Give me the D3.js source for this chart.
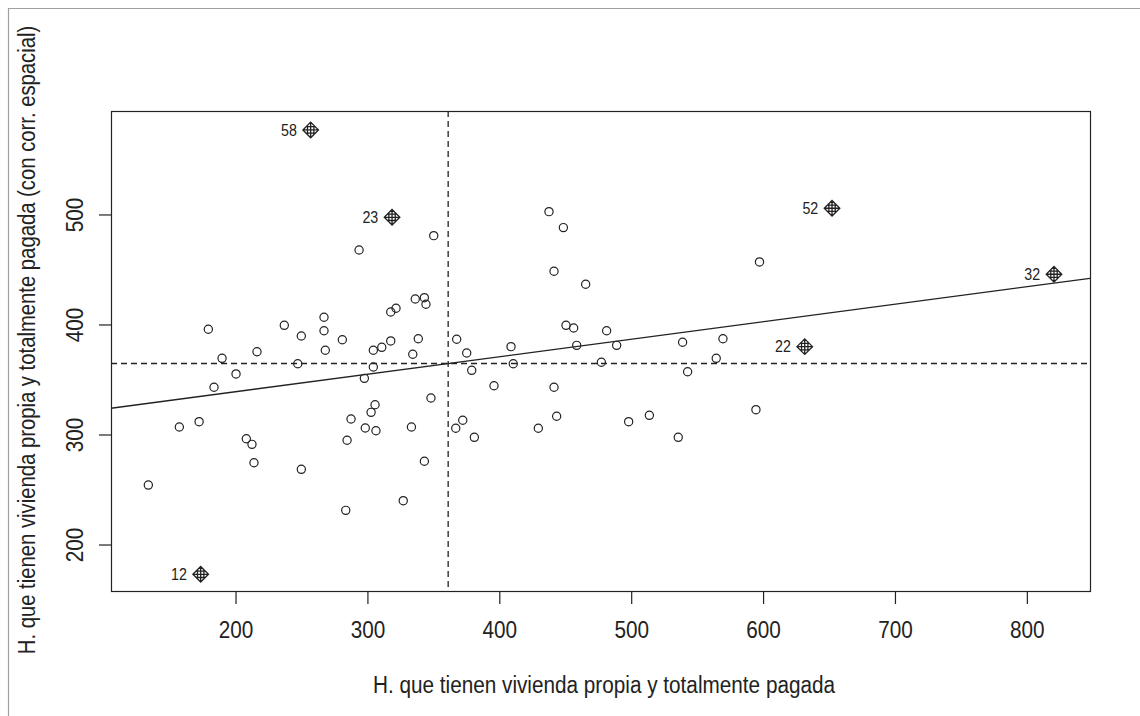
<!DOCTYPE html>
<html>
<head>
<meta charset="utf-8">
<script src="https://cdn.jsdelivr.net/npm/d3@7"></script>
<style>
  html, body { margin: 0; padding: 0; background: #fff; }
  svg { display: block; }
  text { font-family: "Liberation Sans", Arial, sans-serif; fill: #222; }
</style>
</head>
<body>
<svg id="chart" width="1140" height="716"></svg>
<script>
// Households with own, fully paid dwelling (x) vs. its spatial lag (wx)
const obsX = [
  349.9, 293.3, 335.9, 342.8, 344.0, 317.3, 321.3, 266.7, 179.0, 236.6,
  266.7, 249.5, 280.6, 317.3, 338.2, 367.3, 189.4, 215.9, 267.7, 304.1,
  310.5, 334.0, 246.8, 304.1, 200.0, 297.3, 183.3, 347.8, 305.4, 302.4,
  172.0, 157.0, 287.2, 298.0, 306.1, 333.0, 366.6, 207.8, 212.1, 284.2,
  213.6, 249.5, 342.8, 133.5, 326.8, 283.2, 437.3, 448.2, 596.9, 441.1,
  465.1, 450.2, 456.0, 481.0, 408.5, 458.3, 488.6, 538.6, 569.2, 374.9,
  378.7, 410.2, 477.0, 542.4, 564.1, 395.6, 441.1, 371.9, 380.7, 429.2,
  443.1, 497.7, 513.4, 535.3, 594.2
];
const lagY = [
  481.2, 468.2, 423.6, 424.8, 418.8, 411.8, 415.2, 407.0, 396.1, 399.7,
  394.8, 390.0, 386.6, 385.5, 387.5, 387.0, 369.7, 375.7, 377.0, 377.0,
  379.7, 373.4, 364.8, 361.8, 355.5, 351.5, 343.4, 333.6, 327.5, 320.6,
  312.1, 307.3, 314.5, 306.4, 303.9, 307.3, 306.1, 296.6, 291.5, 295.2,
  274.8, 268.8, 276.1, 254.5, 240.3, 231.5, 503.0, 488.5, 457.3, 448.8,
  437.0, 399.7, 397.3, 394.8, 380.3, 381.5, 381.5, 384.3, 387.5, 374.5,
  358.8, 364.8, 366.1, 357.5, 369.7, 344.8, 343.4, 313.4, 297.9, 306.1,
  317.0, 312.1, 317.9, 297.9, 323.0
];

// Influential observations
const inflIds = ["58", "23", "12", "52", "32", "22"];
const inflX   = [256.6, 318.3, 173.2, 651.9, 820.2, 631.2];
const inflY   = [577.3, 497.9, 173.4, 506.1, 446.1, 380.3];

const xTicks = [200, 300, 400, 500, 600, 700, 800];
const yTicks = [200, 300, 400, 500];

const xTitle = "H. que tienen vivienda propia y totalmente pagada";
const yTitle = "H. que tienen vivienda propia y totalmente pagada (con corr. espacial)";

const xDomain = [105.2, 847.5];
const yDomain = [158.2, 594.5];

// ---- layout ----
const W = 1140, H = 716;
const plot = { left: 111, right: 1090, top: 111, bottom: 591 };
const ink = "#222";
const fontSize = 23.3, squeeze = 0.89;

const svg = d3.select("#chart");

const x = d3.scaleLinear().domain(xDomain).range([plot.left, plot.right]);
const y = d3.scaleLinear().domain(yDomain).range([plot.bottom, plot.top]);

// all observations together for the summary statistics
const allX = obsX.concat(inflX);
const allY = lagY.concat(inflY);
const mx = d3.mean(allX), my = d3.mean(allY);
let sxy = 0, sxx = 0;
allX.forEach((v, i) => { sxy += (v - mx) * (allY[i] - my); sxx += (v - mx) * (v - mx); });
const slope = sxy / sxx, intercept = my - slope * mx;

// outer frame (top and left edges)
svg.append("path")
  .attr("d", `M8.5,${H} V8.5 H${W}`)
  .attr("fill", "none").attr("stroke", "#a0a0a0").attr("stroke-width", 1.2);

// clip for the lines inside the plot region
svg.append("clipPath").attr("id", "plotclip")
  .append("rect")
  .attr("x", plot.left).attr("y", plot.top)
  .attr("width", plot.right - plot.left).attr("height", plot.bottom - plot.top);

const inner = svg.append("g").attr("clip-path", "url(#plotclip)");

// regression line of wx on x
inner.append("line")
  .attr("x1", x(xDomain[0])).attr("y1", y(intercept + slope * xDomain[0]))
  .attr("x2", x(xDomain[1])).attr("y2", y(intercept + slope * xDomain[1]))
  .attr("stroke", ink).attr("stroke-width", 1.3);

// mean lines
inner.append("line")
  .attr("x1", x(mx)).attr("x2", x(mx))
  .attr("y1", plot.top).attr("y2", plot.bottom)
  .attr("stroke", ink).attr("stroke-width", 1.3).attr("stroke-dasharray", "6,4");
inner.append("line")
  .attr("x1", plot.left).attr("x2", plot.right)
  .attr("y1", y(my)).attr("y2", y(my))
  .attr("stroke", ink).attr("stroke-width", 1.3).attr("stroke-dasharray", "6,4");

// ordinary observations
inner.append("g").selectAll("circle")
  .data(obsX.map((v, i) => [v, lagY[i]]))
  .join("circle")
  .attr("cx", d => x(d[0])).attr("cy", d => y(d[1]))
  .attr("r", 4.1)
  .attr("fill", "none").attr("stroke", ink).attr("stroke-width", 1.2);

// influential observations: diamond with cross
const dr = 7.8, hs = 3.2;
const infl = svg.append("g").selectAll("g")
  .data(inflIds.map((id, i) => ({ id, vx: inflX[i], vy: inflY[i] })))
  .join("g")
  .attr("transform", d => `translate(${x(d.vx)},${y(d.vy)})`);

infl.append("path")
  .attr("d", () => {
    let p = `M0,${-dr} L${dr},0 L0,${dr} L${-dr},0 Z M${-dr},0 H${dr} M0,${-dr} V${dr}`;
    const e = dr - hs;
    [-hs, hs].forEach(o => {
      p += ` M${-e},${o} H${e} M${o},${-e} V${e}`;
    });
    return p;
  })
  .attr("fill", "none").attr("stroke", ink).attr("stroke-width", 1.3);

infl.append("text")
  .attr("transform", `translate(${-dr - 6},5.6) scale(${squeeze},1)`)
  .attr("text-anchor", "end")
  .attr("font-size", 16)
  .text(d => d.id);

// plot box
svg.append("rect")
  .attr("x", plot.left + 0.5).attr("y", plot.top + 0.5)
  .attr("width", plot.right - plot.left).attr("height", plot.bottom - plot.top)
  .attr("fill", "none").attr("stroke", ink).attr("stroke-width", 1.2);

// x axis
const xAxis = svg.append("g");
xAxis.selectAll("line").data(xTicks).join("line")
  .attr("x1", d => x(d)).attr("x2", d => x(d))
  .attr("y1", plot.bottom).attr("y2", plot.bottom + 13)
  .attr("stroke", ink).attr("stroke-width", 1.2);
xAxis.selectAll("text").data(xTicks).join("text")
  .attr("transform", d => `translate(${x(d)},638) scale(${squeeze},1)`)
  .attr("text-anchor", "middle")
  .attr("font-size", fontSize)
  .text(d => d);

// y axis
const yAxis = svg.append("g");
yAxis.selectAll("line").data(yTicks).join("line")
  .attr("x1", plot.left - 12).attr("x2", plot.left)
  .attr("y1", d => y(d)).attr("y2", d => y(d))
  .attr("stroke", ink).attr("stroke-width", 1.2);
yAxis.selectAll("text").data(yTicks).join("text")
  .attr("transform", d => `translate(83,${y(d)}) rotate(-90) scale(${squeeze},1)`)
  .attr("text-anchor", "middle")
  .attr("font-size", fontSize)
  .text(d => d);

// axis titles
svg.append("text")
  .attr("transform", `translate(604,693) scale(${squeeze},1)`)
  .attr("text-anchor", "middle")
  .attr("font-size", fontSize)
  .text(xTitle);

svg.append("text")
  .attr("transform", `translate(35,340) rotate(-90) scale(0.87,1)`)
  .attr("text-anchor", "middle")
  .attr("font-size", fontSize)
  .text(yTitle);
</script>
</body>
</html>
